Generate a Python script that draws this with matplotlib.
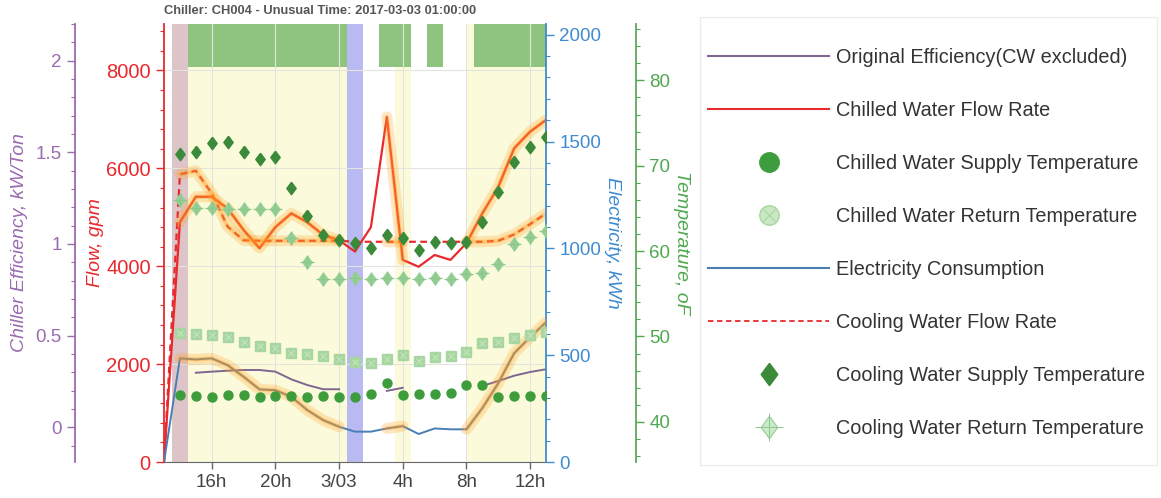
import numpy as np
import pandas as pd
import matplotlib
matplotlib.use("Agg")
import matplotlib.pyplot as plt
import matplotlib.dates as mdates
from matplotlib.ticker import MultipleLocator, FuncFormatter
from matplotlib.lines import Line2D
from matplotlib.legend_handler import HandlerTuple
from matplotlib.patches import Rectangle

plt.rcParams['font.family'] = ['Liberation Sans', 'DejaVu Sans']

nan = np.nan

# Hourly readings for chiller CH004
times = pd.date_range("2017-03-02 13:00", periods=25, freq="h")

efficiency = [nan, nan, 0.297, 0.303, 0.308, 0.312, 0.312, 0.303, 0.261, 0.230,
              0.207, 0.207, nan, nan, 0.198, 0.215, nan, nan, nan, nan,
              0.225, 0.252, 0.281, 0.301, 0.316]
chw_flow = [0, 4900, 5420, 5420, 5180, 4740, 4370, 4800, 5080, 4900, 4640, 4530,
            4300, 4800, 7050, 4130, 3990, 4230, 4130, 4470, 5080, 5620, 6410,
            6750, 6990]
cw_flow = [0, 5880, 5950, 5490, 4810, 4530, 4520, 4520, 4520, 4520, 4520, 4520,
           4500, 4500, 4500, 4500, 4500, 4500, 4500, 4500, 4500, 4520, 4650,
           4860, 5080]
electricity = [0, 485, 480, 485, 453, 399, 340, 336, 305, 243, 196, 165, 142,
               142, 157, 168, 131, 157, 153, 153, 252, 369, 509, 584, 654]
chw_supply_t = [nan, 43.1, 43.0, 42.9, 43.1, 43.2, 42.9, 43.0, 43.0, 42.9, 43.0,
                42.9, 42.9, 43.3, 44.5, 43.2, 43.3, 43.3, 43.4, 44.3, 44.3, 42.9,
                43.0, 43.0, 43.0]
chw_return_t = [nan, 50.4, 50.3, 50.2, 49.95, 49.4, 48.9, 48.6, 48.1, 47.9, 47.7,
                47.4, 47.0, 46.9, 47.4, 47.8, 47.1, 47.6, 47.7, 48.2, 49.2, 49.4,
                49.8, 50.2, 50.5]
cw_supply_t = [nan, 71.35, 71.6, 72.7, 72.8, 71.6, 70.8, 71.0, 67.4, 64.1, 61.9,
               61.3, 60.9, 60.4, 61.9, 61.5, 60.1, 61.1, 60.9, 61.1, 63.4, 66.9,
               70.4, 72.2, 73.4]
cw_return_t = [nan, 66.0, 65.0, 65.0, 64.9, 64.9, 64.9, 64.9, 61.5, 58.7, 56.7,
               56.7, 56.8, 56.7, 56.9, 56.8, 56.7, 56.9, 56.7, 57.3, 57.4, 58.5,
               60.8, 61.7, 62.4]

# Periods flagged as normal operation (highlighted), status bars, and markers
glow_periods = [("2017-03-02 14:00", "2017-03-03 00:00"),
                ("2017-03-03 03:00", "2017-03-03 04:00"),
                ("2017-03-03 08:00", "2017-03-03 13:00")]
normal_bg = [("2017-03-02 14:30", "2017-03-03 00:30"),
             ("2017-03-03 03:30", "2017-03-03 04:30"),
             ("2017-03-03 08:00", "2017-03-03 13:00")]
status_bars = [("2017-03-02 14:30", "2017-03-03 00:30"),
               ("2017-03-03 02:30", "2017-03-03 04:30"),
               ("2017-03-03 05:30", "2017-03-03 06:30"),
               ("2017-03-03 08:30", "2017-03-03 13:00")]
start_span = ("2017-03-02 13:30", "2017-03-02 14:30")
unusual_span = ("2017-03-03 00:30", "2017-03-03 01:30")

title = "Chiller: CH004 - Unusual Time: 2017-03-03 01:00:00"

C_EFF = '#9a6cb0'
C_EFF_LINE = '#7e6790'
C_FLOW = '#e8292e'
C_ELEC = '#3f8bd0'
C_ELEC_LINE = '#4a7fb5'
C_TEMP = '#4fa84f'
C_GLOW = '#ff9a1a'

fig = plt.figure(figsize=(11.61, 4.98), dpi=100)
L, R, B, T = 164, 546, 462, 24
W, H = 1161, 498
ax = fig.add_axes([L / W, 1 - B / H, (R - L) / W, (B - T) / H])
ax_eff = ax.twinx()
ax_elec = ax.twinx()
ax_temp = ax.twinx()

tt = pd.to_datetime
x0, x1 = tt("2017-03-02 13:00"), tt("2017-03-03 13:00")
ax.set_xlim(x0, x1)

# background spans
ax.set_facecolor('white')
for a, b in normal_bg:
    ax.axvspan(tt(a), tt(b), color='#fbfbdc', lw=0, zorder=0)
ax.axvspan(tt(start_span[0]), tt(start_span[1]), color='#dcc4c8', lw=0, zorder=0.1)
ax.axvspan(tt(unusual_span[0]), tt(unusual_span[1]), color='#babaf2', lw=0, zorder=0.1)
for a, b in status_bars:
    ax.axvspan(tt(a), tt(b), ymin=0.902, ymax=1.0, color='#8fc47f', lw=0, zorder=0.2)

ax.grid(True, axis='both', color='#e4e4dc', lw=0.8, zorder=0.3)
ax.set_axisbelow(True)


def glow_mask(values):
    v = np.array(values, dtype=float)
    out = np.full_like(v, np.nan)
    for a, b in glow_periods:
        m = (times >= tt(a)) & (times <= tt(b))
        out[m] = v[m]
    return out


def add_glow(axis, values, z=4):
    g = glow_mask(values)
    axis.plot(times, g, color=C_GLOW, lw=8, alpha=0.25, zorder=z,
              solid_capstyle='round', solid_joinstyle='round')
    axis.plot(times, g, color=C_GLOW, lw=3, alpha=0.35, zorder=z,
              solid_capstyle='round', solid_joinstyle='round')


# flows
ax.plot(times, chw_flow, color=C_FLOW, lw=1.6, zorder=3)
ax.plot(times, cw_flow, color=C_FLOW, lw=1.6, dashes=(3, 2), zorder=3)
add_glow(ax, chw_flow)
add_glow(ax, cw_flow)
ax.set_ylim(0, 8950)
ax.yaxis.set_major_locator(MultipleLocator(2000))
ax.yaxis.set_minor_locator(MultipleLocator(400))

# efficiency
ax_eff.plot(times, efficiency, color=C_EFF_LINE, lw=1.4)
ax_eff.set_ylim(-0.19, 2.2)
ax_eff.yaxis.set_major_locator(MultipleLocator(0.5))
ax_eff.yaxis.set_minor_locator(MultipleLocator(0.1))
ax_eff.yaxis.set_major_formatter(FuncFormatter(lambda v, p: f"{v:g}"))

# electricity
ax_elec.plot(times, electricity, color=C_ELEC_LINE, lw=1.4)
add_glow(ax_elec, electricity)
ax_elec.set_ylim(0, 2050)
ax_elec.yaxis.set_major_locator(MultipleLocator(500))
ax_elec.yaxis.set_minor_locator(MultipleLocator(100))

# temperatures
diamond = [(0, 1), (0.75, 0), (0, -1), (-0.75, 0), (0, 1)]
ax_temp.plot(times, chw_supply_t, ls='', marker='o', ms=6.5, color='#3d9d3d', mec='#3d9d3d')
ax_temp.plot(times, chw_return_t, ls='', marker='s', ms=6.5, color='#a8d6a0', mec='#a8d6a0')
ax_temp.plot(times, chw_return_t, ls='', marker='x', ms=4.5, color='#c4e4bd', mew=0.8)
ax_temp.plot(times, cw_supply_t, ls='', marker=diamond, ms=9, color='#3a8a3a', mec='#3a8a3a')
ax_temp.plot(times, cw_return_t, ls='', marker=diamond, ms=9, color='#96d096', mec='#96d096')
ax_temp.plot(times, cw_return_t, ls='', marker='+', ms=10, color='#8cc78c', mew=0.9)
ax_temp.set_ylim(35.3, 86.6)
ax_temp.yaxis.set_major_locator(MultipleLocator(10))
ax_temp.yaxis.set_minor_locator(MultipleLocator(2))

# axes styling
for a in (ax, ax_eff, ax_elec, ax_temp):
    for s in a.spines.values():
        s.set_visible(False)

ax.spines['bottom'].set_visible(True)
ax.spines['bottom'].set_color('#666666')
ax.spines['left'].set_visible(True)
ax.spines['left'].set_color(C_FLOW)
ax.spines['left'].set_linewidth(1.3)

ax_eff.yaxis.set_ticks_position('left')
ax_eff.yaxis.set_label_position('left')
ax_eff.spines['left'].set_visible(True)
ax_eff.spines['left'].set_position(('axes', (75 - L) / (R - L)))
ax_eff.spines['left'].set_color(C_EFF)
ax_eff.spines['left'].set_linewidth(1.3)

ax_elec.spines['right'].set_visible(True)
ax_elec.spines['right'].set_color(C_ELEC)
ax_elec.spines['right'].set_linewidth(1.3)

ax_temp.spines['right'].set_visible(True)
ax_temp.spines['right'].set_position(('axes', (636 - L) / (R - L)))
ax_temp.spines['right'].set_color('#5aa85a')
ax_temp.spines['right'].set_linewidth(1.3)

tick_fs = 13.5
for a, c in ((ax, C_FLOW), (ax_eff, C_EFF), (ax_elec, C_ELEC), (ax_temp, C_TEMP)):
    a.tick_params(axis='y', which='major', colors=c, labelsize=tick_fs,
                  length=6, width=1, direction='out')
    a.tick_params(axis='y', which='minor', colors=c, length=3, width=0.8,
                  direction='out')
ax.tick_params(axis='y', labelsize=14.5)

ax.xaxis.set_major_locator(mdates.HourLocator(byhour=[0, 4, 8, 12, 16, 20]))


def hour_label(v, pos):
    d = mdates.num2date(v)
    if d.hour == 0:
        return f"{d.month}/{d.day:02d}"
    return f"{d.hour}h"


ax.xaxis.set_major_formatter(FuncFormatter(hour_label))
ax.tick_params(axis='x', colors='#666666', labelcolor='#444444', labelsize=tick_fs,
               length=5, width=1)

lab_kw = dict(fontsize=14, fontstyle='italic')
ax_eff.set_ylabel("Chiller Efficiency, kW/Ton", color=C_EFF, labelpad=5.5, **lab_kw)
ax.set_ylabel("Flow, gpm", color=C_FLOW, labelpad=1.5, **lab_kw)
ax_elec.set_ylabel("Electricity, kWh", color=C_ELEC, rotation=270, labelpad=14.5, **lab_kw)
ax_temp.set_ylabel("Temperature, oF", color=C_TEMP, rotation=270, labelpad=14.5, **lab_kw)

ax.set_title(title, loc='left', fontsize=9.3, fontweight='bold', color='#555555', pad=7)

# legend
h_eff = Line2D([], [], color=C_EFF_LINE, lw=1.5)
h_chw = Line2D([], [], color=C_FLOW, lw=1.5)
h_chws = Line2D([], [], ls='', marker='o', ms=7, color='#3d9d3d')
h_chwr = (Line2D([], [], ls='', marker='o', ms=7, color='#c9e8c3', mec='#a8d6a0'),
          Line2D([], [], ls='', marker='x', ms=4.5, color='#a8d6a0', mew=0.8))
h_elec = Line2D([], [], color=C_ELEC_LINE, lw=1.5)
h_cw = Line2D([], [], color=C_FLOW, lw=1.3, dashes=(3, 2))
h_cws = Line2D([], [], ls='', marker=diamond, ms=8, color='#3a8a3a')
h_cwr = (Line2D([], [], ls='', marker=diamond, ms=8, color='#c9ebc9', mec='#8cc78c', mew=0.7),
         Line2D([], [], ls='', marker='+', ms=10, color='#8cc78c', mew=0.7))
handles = [h_eff, h_chw, h_chws, h_chwr, h_elec, h_cw, h_cws, h_cwr]
labels = ["Original Efficiency(CW excluded)", "Chilled Water Flow Rate",
          "Chilled Water Supply Temperature", "Chilled Water Return Temperature",
          "Electricity Consumption", "Cooling Water Flow Rate",
          "Cooling Water Supply Temperature", "Cooling Water Return Temperature"]

fig.patches.append(Rectangle((700 / W, 1 - 465 / H), 457 / W, 448 / H,
                             transform=fig.transFigure, fill=False,
                             edgecolor='#ececec', lw=1))
leg = fig.legend(handles, labels, loc='upper left',
                 bbox_to_anchor=(708 / W, 1 - 48 / H), frameon=False,
                 fontsize=14.3, labelspacing=1.715, handlelength=6.1,
                 handletextpad=0.36, borderpad=0, borderaxespad=0,
                 markerscale=2, numpoints=1,
                 handler_map={tuple: HandlerTuple(ndivide=1)})
for t in leg.get_texts():
    t.set_color('#333333')

fig.savefig("out.png", dpi=100)
